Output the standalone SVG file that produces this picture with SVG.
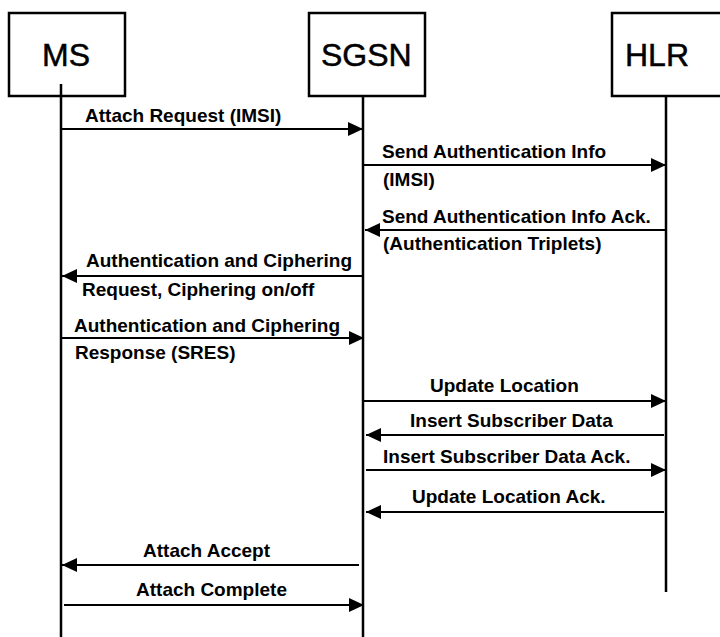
<svg xmlns="http://www.w3.org/2000/svg" width="720" height="637" viewBox="0 0 720 637">
  <defs>
    <style>
      .box { fill: #fff; stroke: #000; stroke-width: 2.5; }
      .life { stroke: #000; stroke-width: 2.5; fill: none; }
      .title { font-family: "Liberation Sans", Arial, sans-serif; font-size: 32px; fill: #000; stroke: #000; stroke-width: 0.5; }
      .msg { stroke: #000; stroke-width: 2.2; fill: none; marker-end: url(#head); }
      .lbl { font-family: "Liberation Sans", Arial, sans-serif; font-size: 19px; font-weight: bold; fill: #000; }
    </style>
    <marker id="head" markerUnits="userSpaceOnUse" markerWidth="16" markerHeight="14" refX="15" refY="7" orient="auto">
      <path d="M0,0 L15,7 L0,14 Z" fill="#000"/>
    </marker>
  </defs>

  <rect width="720" height="637" fill="#fff"/>

  <!-- participants -->
  <g id="ms">
    <rect class="box" x="9" y="13" width="116" height="83"/>
    <text class="title" x="42" y="66">MS</text>
    <line class="life" x1="61" y1="84" x2="61" y2="637"/>
  </g>
  <g id="sgsn">
    <rect class="box" x="309" y="13" width="116" height="83"/>
    <text class="title" x="321" y="66">SGSN</text>
    <line class="life" x1="363" y1="96" x2="363" y2="637"/>
  </g>
  <g id="hlr">
    <rect class="box" x="612" y="13" width="122" height="83"/>
    <text class="title" x="625" y="66">HLR</text>
    <line class="life" x1="666" y1="96" x2="666" y2="592"/>
  </g>

  <!-- messages -->
  <g id="connectors">
    <g id="m1">
      <line class="msg" x1="61" y1="129" x2="363" y2="129"/>
      <text class="lbl" x="85" y="122">Attach Request (IMSI)</text>
    </g>
    <g id="m2">
      <line class="msg" x1="363" y1="165" x2="666" y2="165"/>
      <text class="lbl" x="382" y="158">Send Authentication Info</text>
      <text class="lbl" x="383" y="186">(IMSI)</text>
    </g>
    <g id="m3">
      <line class="msg" x1="666" y1="230" x2="365" y2="230"/>
      <text class="lbl" x="382" y="223">Send Authentication Info Ack.</text>
      <text class="lbl" x="383" y="250">(Authentication Triplets)</text>
    </g>
    <g id="m4">
      <line class="msg" x1="363" y1="276" x2="62" y2="276"/>
      <text class="lbl" x="86" y="267">Authentication and Ciphering</text>
      <text class="lbl" x="82" y="296">Request, Ciphering on/off</text>
    </g>
    <g id="m5">
      <line class="msg" x1="61" y1="338" x2="364" y2="338"/>
      <text class="lbl" x="74" y="332">Authentication and Ciphering</text>
      <text class="lbl" x="75" y="359">Response (SRES)</text>
    </g>
    <g id="m6">
      <line class="msg" x1="363" y1="401" x2="666" y2="401"/>
      <text class="lbl" x="430" y="392">Update Location</text>
    </g>
    <g id="m7">
      <line class="msg" x1="664" y1="435" x2="366" y2="435"/>
      <text class="lbl" x="410" y="427">Insert Subscriber Data</text>
    </g>
    <g id="m8">
      <line class="msg" x1="366" y1="470" x2="666" y2="470"/>
      <text class="lbl" x="383" y="463">Insert Subscriber Data Ack.</text>
    </g>
    <g id="m9">
      <line class="msg" x1="664" y1="512" x2="366" y2="512"/>
      <text class="lbl" x="412" y="503">Update Location Ack.</text>
    </g>
    <g id="m10">
      <line class="msg" x1="359" y1="565" x2="62" y2="565"/>
      <text class="lbl" x="143" y="557">Attach Accept</text>
    </g>
    <g id="m11">
      <line class="msg" x1="64" y1="605" x2="364" y2="605"/>
      <text class="lbl" x="136" y="596">Attach Complete</text>
    </g>
  </g>
</svg>
